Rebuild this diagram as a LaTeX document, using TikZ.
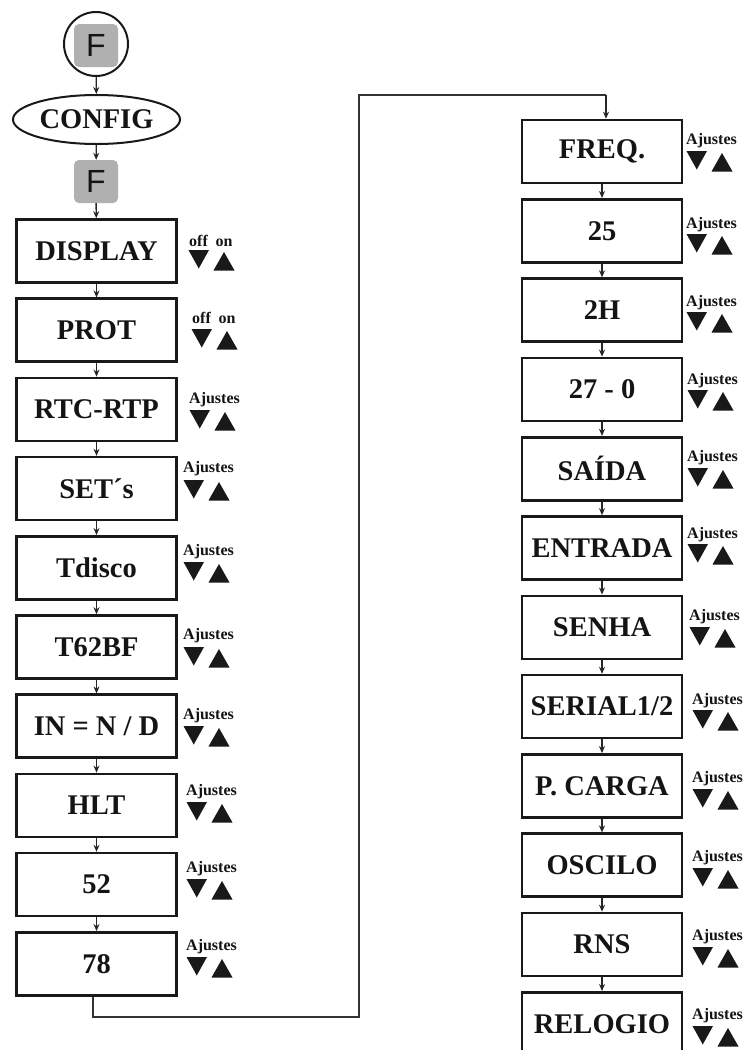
\documentclass[tikz,border=0pt]{standalone}
\usepackage{fontspec}
\setmainfont{Liberation Serif}
\newfontfamily\fsans{Liberation Sans}
\usetikzlibrary{arrows.meta,shapes.geometric}
\tikzset{
  x=1pt,y=-1pt,
  stepbox/.style={draw=black!90, line width=2.6pt, minimum width=160pt, minimum height=63pt,
    inner sep=0pt, font=\fontsize{28.5}{28.5}\selectfont\bfseries, text=black!92},
  fkey/.style={fill=gray!62, rounded corners=5pt, minimum width=44pt, minimum height=43pt,
    inner sep=0pt, font=\fsans\fontsize{32}{32}\selectfont, text=black!92},
  flow/.style={line width=1.4pt, draw=black!85, -{Stealth[length=7pt,width=6pt]}},
  loopline/.style={line width=1.6pt, draw=black!80},
  adjtxt/.style={font=\fontsize{16}{16}\selectfont\bfseries, inner sep=0pt, text=black!92},
  trifill/.style={fill=black!90},
}
% #1 name, #2 x, #3 text centre y, #4 triangle top y
\newcommand\adjset[4]{%
  \node[adjtxt, anchor=base west] (#1t) at (#2, #3+5.5) {Ajustes};
  \fill[trifill] (#2+0.5,#4) -- ++(20.5,0) -- ++(-10.25,18.5) -- cycle;
  \fill[trifill] (#2+25.5,#4+20.5) -- ++(21,0) -- ++(-10.5,-18.5) -- cycle;
}
\newcommand\onoffset[4]{%
  \node[adjtxt, anchor=base] (#1off) at (#2+10.5, #3+5.5) {off};
  \node[adjtxt, anchor=base] (#1on) at (#2+36, #3+5.5) {on};
  \fill[trifill] (#2+0.5,#4) -- ++(20.5,0) -- ++(-10.25,18.5) -- cycle;
  \fill[trifill] (#2+25.5,#4+20.5) -- ++(21,0) -- ++(-10.5,-18.5) -- cycle;
}
\begin{document}
\begin{tikzpicture}
\useasboundingbox (0,0) rectangle (745,1050);
\clip (0,0) rectangle (745,1050);
\fill[white] (0,0) rectangle (745,1050);

% top
\node[circle, draw=black!90, line width=2pt, minimum size=64pt, inner sep=0pt] (start) at (96,44) {};
\node[fkey] (f1) at (96,45.5) {F};
\node[ellipse, draw=black!90, line width=2pt, minimum width=167pt, minimum height=49pt, inner sep=0pt,
  font=\fontsize{28.5}{28.5}\selectfont\bfseries, text=black!92] (config) at (96.5,119.5) {CONFIG};
\node[fkey] (f2) at (96,181.5) {F};

% left column
\node[stepbox] (display) at (96.5,251) {DISPLAY};
\node[stepbox] (prot) at (96.5,330.2) {PROT};
\node[stepbox] (rtc) at (96.5,409.4) {RTC-RTP};
\node[stepbox] (sets) at (96.5,488.6) {SET´s};
\node[stepbox] (tdisco) at (96.5,567.8) {Tdisco};
\node[stepbox] (t62) at (96.5,647) {T62BF};
\node[stepbox] (innd) at (96.5,726.2) {IN = N / D};
\node[stepbox] (hlt) at (96.5,805.4) {HLT};
\node[stepbox] (b52) at (96.5,884.6) {52};
\node[stepbox] (b78) at (96.5,963.8) {78};

% right column
\node[stepbox] (freq) at (602,151.5) {FREQ.};
\node[stepbox] (b25) at (602,230.8) {25};
\node[stepbox] (b2h) at (602,310.1) {2H};
\node[stepbox] (b270) at (602,389.4) {27 - 0};
\node[stepbox] (saida) at (602,468.7) {SAÍDA};
\node[stepbox] (entrada) at (602,548) {ENTRADA};
\node[stepbox] (senha) at (602,627.3) {SENHA};
\node[stepbox] (serial) at (602,706.6) {SERIAL1/2};
\node[stepbox] (pcarga) at (602,785.9) {P. CARGA};
\node[stepbox] (oscilo) at (602,865.2) {OSCILO};
\node[stepbox] (rns) at (602,944.5) {RNS};
\node[stepbox] (relogio) at (602,1023.8) {RELOGIO};

% arrows
\draw[flow] (start) -- (config);
\draw[flow] (config) -- (f2);
\draw[flow] (f2) -- (display);
\foreach \a/\b in {display/prot, prot/rtc, rtc/sets, sets/tdisco, tdisco/t62, t62/innd, innd/hlt, hlt/b52, b52/b78,
  freq/b25, b25/b2h, b2h/b270, b270/saida, saida/entrada, entrada/senha, senha/serial, serial/pcarga,
  pcarga/oscilo, oscilo/rns, rns/relogio}
  \draw[flow] (\a.south) -- (\b.north);

% loop connector
\coordinate (lp1) at (359,1017);
\coordinate (lp2) at (359,95);
\draw[loopline] ([xshift=-3.5pt]b78.south) |- (lp1) -- (lp2) -- (606,95);
\draw[flow, line width=1.6pt] (606,95) -- ([xshift=4pt]freq.north);

% labels left
\onoffset{ldisp}{188}{241}{250}
\onoffset{lprot}{191}{318}{329}
\adjset{lrtc}{189}{398}{410}
\adjset{lsets}{183}{467}{480}
\adjset{ltdisco}{183}{550}{562}
\adjset{lt62}{183}{634}{647}
\adjset{linnd}{183}{714}{726}
\adjset{lhlt}{186}{790}{802}
\adjset{l52}{186}{866.5}{879}
\adjset{l78}{186}{945}{957}

% labels right
\adjset{rfreq}{686}{139}{151}
\adjset{r25}{686}{222.5}{234}
\adjset{r2h}{686}{301}{312}
\adjset{r270}{687}{379}{390}
\adjset{rsaida}{687}{456}{468}
\adjset{rentrada}{687}{533}{544}
\adjset{rsenha}{689}{615}{627}
\adjset{rserial}{692}{699}{710}
\adjset{rpcarga}{692}{777}{789}
\adjset{roscilo}{692}{856}{868}
\adjset{rrns}{692}{935}{947}
\adjset{rrelogio}{692}{1014}{1026}
\end{tikzpicture}
\end{document}
